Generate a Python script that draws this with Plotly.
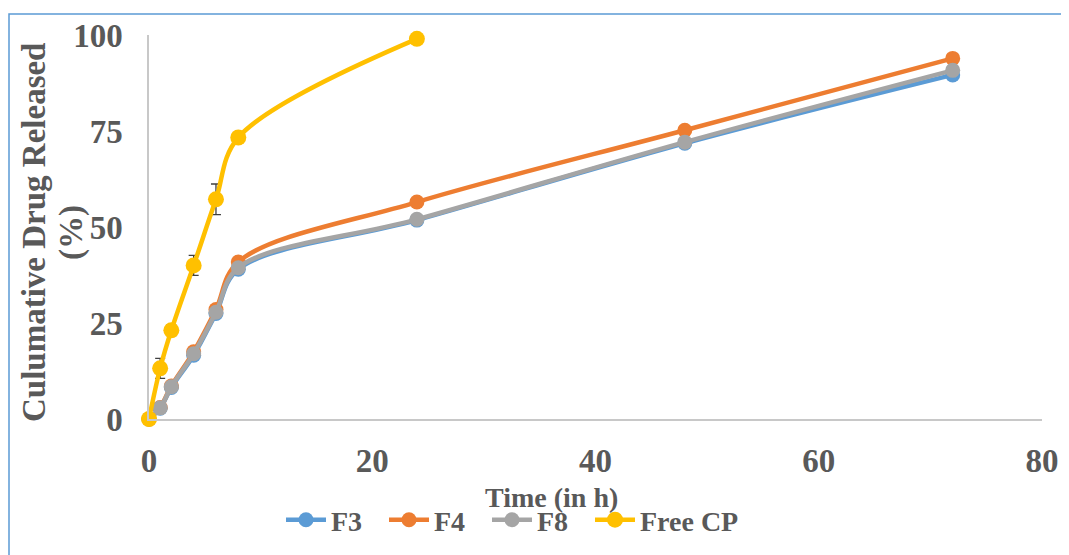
import plotly.graph_objects as go

time_f = [0, 1, 2, 4, 6, 8, 24, 48, 72]
f3 = [0, 2.8, 8.2, 16.6, 27.5, 39.0, 51.8, 71.8, 89.6]
f4 = [0, 3.0, 8.6, 17.5, 28.5, 40.9, 56.5, 75.2, 93.9]
f8 = [0, 2.9, 8.4, 17.0, 27.8, 39.4, 52.0, 72.1, 90.8]

time_cp = [0, 1, 2, 4, 6, 8, 24]
free_cp = [0, 13.2, 23.1, 40.0, 57.2, 73.3, 99.0]
free_cp_err = [0, 2.6, 1.4, 2.6, 4.0, 0, 0]

x_ticks = [0, 20, 40, 60, 80]
y_ticks = [0, 25, 50, 75, 100]

TXT = "#595959"
FONT = "Liberation Serif"

fig = go.Figure()

def add_series(x, y, name, color, msize, legend, err=None):
    tr = go.Scatter(
        x=x, y=y, name=name, mode="lines+markers",
        line=dict(color=color, width=4.5, shape="spline", smoothing=1),
        marker=dict(color=color, size=msize),
        cliponaxis=False, legend=legend,
    )
    if err is not None:
        tr.error_y = dict(type="data", array=err, visible=True, color="#404040",
                          thickness=1.3, width=5)
    fig.add_trace(tr)

add_series(time_f, f3, "F3", "#5B9BD5", 15, "legend")
add_series(time_f, f4, "F4", "#ED7D31", 15, "legend2")
add_series(time_f, f8, "F8", "#A5A5A5", 15, "legend3")
add_series(time_cp, free_cp, "Free CP", "#FFC000", 16, "legend4", free_cp_err)

# page has an 8px body margin; figure is sized so page coords match reference
OFF = 8
W, H = 1069 - OFF, 555 - OFF
L, R, T, B = 149 - OFF, 27, 35 - OFF, 136
pw, ph = W - L - R, H - T - B

def px_x(p):
    return (p - OFF - L) / pw

def px_y(p):
    return (H - B - (p - OFF)) / ph

fig.add_shape(type="rect", xref="paper", yref="paper",
              x0=px_x(9), x1=px_x(1100), y0=px_y(580), y1=px_y(14),
              line=dict(color="#5B9BD5", width=1.5), fillcolor="rgba(0,0,0,0)",
              layer="below")

fig.add_annotation(text="Time (in h)", xref="paper", yref="paper",
                   x=px_x(551), y=px_y(497), showarrow=False,
                   font=dict(family=FONT, size=28, color=TXT, weight="bold"),
                   xanchor="center", yanchor="middle")

for txt, cx in (("Culumative Drug Released", 34), ("(%)", 71)):
    fig.add_annotation(text=txt, xref="paper", yref="paper",
                       x=px_x(cx), y=px_y(233), showarrow=False, textangle=-90,
                       font=dict(family=FONT, size=33, color=TXT, weight="bold"),
                       xanchor="center", yanchor="middle")

def leg(i):
    return dict(orientation="h", x=px_x(281 + 103 * i), y=px_y(520),
                xanchor="left", yanchor="middle",
                font=dict(family=FONT, size=28, color=TXT, weight="bold"),
                bgcolor="rgba(0,0,0,0)", itemwidth=40)

fig.update_layout(
    width=W, height=H,
    margin=dict(l=L, r=R, t=T, b=B, autoexpand=False),
    paper_bgcolor="white", plot_bgcolor="white",
    font=dict(family=FONT, color=TXT, weight="bold"),
    showlegend=True,
    legend=leg(0), legend2=leg(1), legend3=leg(2), legend4=leg(3),
    xaxis=dict(range=[0, 80], tickvals=x_ticks, showgrid=False, zeroline=False,
               showline=True, linecolor="#C8C8C8", linewidth=1.5, automargin=False,
               ticks="outside", ticklen=8, tickcolor="rgba(0,0,0,0)",
               ticklabelstandoff=4,
               tickfont=dict(family=FONT, size=33, color=TXT, weight="bold")),
    yaxis=dict(range=[0, 100], tickvals=y_ticks, showgrid=False, zeroline=False,
               showline=True, linecolor="#C8C8C8", linewidth=1.5, automargin=False,
               ticks="", ticklabelstandoff=18,
               tickfont=dict(family=FONT, size=33, color=TXT, weight="bold")),
)

fig.write_html("out.html")
